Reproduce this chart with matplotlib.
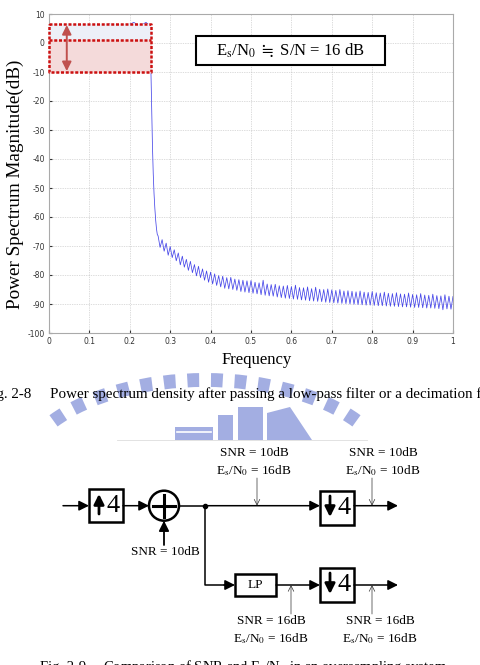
import numpy as np
import matplotlib
matplotlib.use('Agg')
import matplotlib.pyplot as plt
from matplotlib.patches import Rectangle, Circle, Arc, Polygon

plt.rcParams['mathtext.fontset'] = 'stix'
plt.rcParams['axes.unicode_minus'] = False
SERIF = 'Liberation Serif'

# ---- spectrum data ----
freq_pass = np.linspace(0, 0.25, 26)
psd_pass = [6.0, 6.4, 5.9, 6.3, 6.1, 6.5, 5.8, 6.2, 6.4, 6.0, 6.3, 5.9, 6.5,
            6.1, 6.2, 6.6, 5.9, 6.3, 6.4, 6.0, 6.5, 7.1, 6.2, 6.3, 7.1, 6.0]

freq_edge = [0.252, 0.254, 0.256, 0.258, 0.260, 0.262, 0.264, 0.266, 0.268]
psd_edge = [-8, -22, -35, -45, -52, -57, -61, -64, -66]

freq_stop = np.linspace(0.27, 1.0, 147)
psd_stop = [-66.5, -70.5, -67.8, -71.8, -69.0, -73.2,
            -70.2, -74.0, -71.3, -75.1, -72.4, -76.5, -73.5, -77.3, -74.6, -78.4,
            -75.3, -79.2, -76.4, -80.3, -77.0, -80.9, -77.9, -81.8, -78.6, -82.5,
            -79.0, -83.1, -79.6, -83.6, -80.2, -84.1, -80.4, -84.6, -80.9, -84.8,
            -80.8, -85.0, -81.4, -85.3, -81.6, -85.7, -81.8, -85.9, -82.0, -86.1,
            -81.9, -86.3, -82.5, -86.5, -82.7, -86.8, -81.8, -87.0, -83.1, -87.2,
            -83.3, -87.3, -83.2, -87.6, -83.7, -87.8, -83.8, -88.0, -83.6, -88.1,
            -84.0, -88.3, -83.5, -88.4, -84.3, -88.6, -84.4, -88.7, -84.1, -88.9,
            -84.7, -89.0, -84.2, -89.1, -84.9, -89.2, -85.0, -89.4, -84.8, -89.5,
            -85.1, -89.6, -85.3, -89.7, -85.0, -89.8, -85.5, -89.9, -85.4, -90.0,
            -85.6, -90.1, -85.8, -90.2, -85.5, -90.3, -85.9, -90.4, -86.0, -90.4,
            -85.7, -90.5, -86.1, -90.6, -86.2, -90.6, -85.9, -90.7, -86.3, -90.8,
            -86.4, -90.8, -86.1, -90.9, -86.5, -91.0, -86.6, -91.0, -86.2, -91.1,
            -86.7, -91.2, -86.8, -91.2, -86.4, -91.3, -86.9, -91.4, -87.0, -91.4,
            -86.6, -91.5, -87.1, -91.6, -87.2, -92.0, -86.8, -91.7, -87.3, -91.8, -87.4]

xticks = [0, 0.1, 0.2, 0.3, 0.4, 0.5, 0.6, 0.7, 0.8, 0.9, 1.0]
xticklabels = ['0', '0.1', '0.2', '0.3', '0.4', '0.5', '0.6', '0.7', '0.8', '0.9', '1']
yticks = [-100, -90, -80, -70, -60, -50, -40, -30, -20, -10, 0, 10]

band_edge = 0.252
band_top, band_mid, band_bot = 6.5, 1.0, -10

snr_label = r'E$_\mathrm{s}$/N$_0$ $\fallingdotseq$ S/N = 16 dB'
cap1_num = 'Fig. 2-8'
cap1_txt = 'Power spectrum density after passing a low-pass filter or a decimation filter'
cap2_num = 'Fig. 2-9'
cap2_txt = r'Comparison of SNR and E$_\mathrm{s}$/N$_0$ in an oversampling system'

upper_labels = [('SNR = 10dB', r'E$_\mathrm{s}$/N$_0$ = 16dB'),
                ('SNR = 10dB', r'E$_\mathrm{s}$/N$_0$ = 10dB')]
lower_labels = [('SNR = 16dB', r'E$_\mathrm{s}$/N$_0$ = 16dB'),
                ('SNR = 16dB', r'E$_\mathrm{s}$/N$_0$ = 16dB')]
noise_label = 'SNR = 10dB'

fig = plt.figure(figsize=(4.8, 6.65), dpi=100)

# overlay in pixel coords for captions, watermark and block diagram
ov = fig.add_axes([0, 0, 1, 1])
ov.set_xlim(0, 480)
ov.set_ylim(665, 0)
ov.axis('off')

ax = fig.add_axes([49/480, 1-333/665, 404/480, 319/665])

freq = np.concatenate([freq_pass, freq_edge, freq_stop])
psd = np.concatenate([psd_pass, psd_edge, psd_stop])
ax.plot(freq, psd, color='#4646e8', lw=0.55, zorder=2)

ax.set_xlim(0, 1)
ax.set_ylim(-100, 10)
ax.set_xticks(xticks)
ax.set_xticklabels(xticklabels)
ax.set_yticks(yticks)
ax.tick_params(labelsize=5.5, colors='#333333', length=2, direction='in', pad=3)
for s in ax.spines.values():
    s.set_color('#aaaaaa')
    s.set_linewidth(0.8)
ax.grid(True, ls=(0, (1, 1.5)), color='#bbbbbb', lw=0.5)

# highlighted pass band
ax.fill_between([0, band_edge], band_mid, band_top, color='#edf0f8', zorder=3)
ax.fill_between([0, band_edge], band_bot, band_mid, color='#f4dada', zorder=3)
red = dict(color='#cc1010', lw=1.8, ls=(0, (1.2, 0.7)), zorder=4, clip_on=False)
ax.plot([0, band_edge, band_edge, 0, 0], [band_top, band_top, band_bot, band_bot, band_top], **red)
ax.plot([0, band_edge], [band_mid, band_mid], **red)
ax.annotate('', xy=(0.044, band_top - 0.3), xytext=(0.044, band_bot + 0.3),
            arrowprops=dict(arrowstyle='<|-|>,head_length=0.6,head_width=0.3', color='#c0504d',
                            lw=1.4, mutation_scale=9, shrinkA=0, shrinkB=0), zorder=5)

ax.add_patch(Rectangle((0.364, -7.6), 0.468, 10.0, fc='white', ec='black', lw=1.5, zorder=5))
ax.text(0.598, -2.6, snr_label, fontsize=12, family=SERIF, ha='center', va='center', zorder=6)

ax.set_ylabel('Power Spectrum Magnitude(dB)', family=SERIF, fontsize=13.8, va='center')
ax.yaxis.set_label_coords(-0.084, 0.467)
ax.set_xlabel('Frequency', family=SERIF, fontsize=12, va='center')
ax.xaxis.set_label_coords(0.515, -0.085)

# watermark
wm = '#a3aee2'
ov.add_patch(Arc((205, 476), 370, 192, theta1=200, theta2=340, lw=10,
                 ls=(0, (0.85, 0.85)), color=wm, zorder=0.5))
ov.add_patch(Rectangle((175, 427), 38, 13, color=wm, lw=0, zorder=0.5))
ov.plot([177, 211], [432, 432], color='white', lw=1.2, zorder=0.6)
ov.add_patch(Rectangle((218, 415), 15, 25, color=wm, lw=0, zorder=0.5))
ov.add_patch(Rectangle((238, 407), 25, 33, color=wm, lw=0, zorder=0.5))
ov.add_patch(Polygon([(267, 440), (267, 413), (290, 407), (312, 440)], color=wm, lw=0, zorder=0.5))
ov.add_patch(Rectangle((0, 440.5), 480, 20, color='white', lw=0, zorder=0.7))
ov.plot([117, 367], [440, 440], color='#dddddd', lw=0.6, zorder=0.8)

# captions (cut at the picture edges like the reference)
ov.text(31, 398, cap1_num, ha='right', va='baseline', fontsize=10.8, family=SERIF)
ov.text(50, 398, cap1_txt, ha='left', va='baseline', fontsize=10.8, family=SERIF)
ov.text(40, 671, cap2_num, ha='left', va='baseline', fontsize=10.5, family=SERIF)
ov.text(103, 671, cap2_txt, ha='left', va='baseline', fontsize=10.5, family=SERIF)


# block diagram
def arrow(x0, y0, x1, y1, lw=1.1):
    ov.annotate('', xy=(x1, y1), xytext=(x0, y0),
                arrowprops=dict(arrowstyle='-|>,head_length=0.6,head_width=0.3', color='k',
                                lw=lw, mutation_scale=10, shrinkA=0, shrinkB=0))


def thin_arrow(x0, y0, x1, y1):
    ov.annotate('', xy=(x1, y1), xytext=(x0, y0),
                arrowprops=dict(arrowstyle='->,head_length=0.4,head_width=0.2', color='#333333',
                                lw=0.5, mutation_scale=10, shrinkA=0, shrinkB=0))


def box(x0, y0, x1, y1):
    ov.add_patch(Rectangle((x0, y0), x1 - x0, y1 - y0, fill=False, ec='k', lw=1.8))


def ratio_box(x0, y0, x1, y1, up):
    box(x0, y0, x1, y1)
    xm = x0 + 10
    if up:
        arrow(xm, y1 - 8, xm, y0 + 5, lw=2)
    else:
        arrow(xm, y0 + 5, xm, y1 - 8, lw=2)
    ov.text(x0 + 24, (y0 + y1) / 2, '4', fontsize=19, family=SERIF, ha='center', va='center')


ym, yl = 505.7, 585
arrow(63, ym, 89, ym)
ratio_box(89, 489, 123, 522, True)
arrow(123, ym, 149, ym)
ov.add_patch(Circle((164, ym), 15, fill=False, ec='k', lw=1.8))
ov.plot([153, 175], [ym, ym], color='k', lw=2.2)
ov.plot([164, 164], [ym - 11, ym + 11], color='k', lw=2.2)
arrow(164, 545, 164, ym + 15, lw=1.3)
ov.text(165, 552, noise_label, fontsize=9.5, family=SERIF, ha='center', va='center')

ov.plot([179, 205], [ym, ym], color='k', lw=1.1)
ov.plot(205, ym, 'o', ms=3, color='k')
arrow(205, ym, 320, ym)
ratio_box(320, 491, 354, 525, False)
arrow(354, ym, 398, ym)

ov.plot([205, 205, 225], [ym, yl, yl], color='k', lw=1.1)
arrow(224, yl, 235, yl)
box(235, 574, 276, 596)
ov.text(255.5, 585, 'LP', fontsize=9.5, family=SERIF, ha='center', va='center')
arrow(276, yl, 320, yl)
ratio_box(320, 568, 354, 602, False)
arrow(354, yl, 398, yl)

for x in [257, 372]:
    thin_arrow(x, 478, x, ym)
for x, (l1, l2) in zip([254, 383], upper_labels):
    ov.text(x, 453, l1, fontsize=9.5, family=SERIF, ha='center', va='center')
    ov.text(x, 471, l2, fontsize=9.5, family=SERIF, ha='center', va='center')

for x in [291, 372]:
    thin_arrow(x, 614, x, yl)
for x, (l1, l2) in zip([271, 380], lower_labels):
    ov.text(x, 621, l1, fontsize=9.5, family=SERIF, ha='center', va='center')
    ov.text(x, 639, l2, fontsize=9.5, family=SERIF, ha='center', va='center')

fig.savefig('out.png', dpi=100)
